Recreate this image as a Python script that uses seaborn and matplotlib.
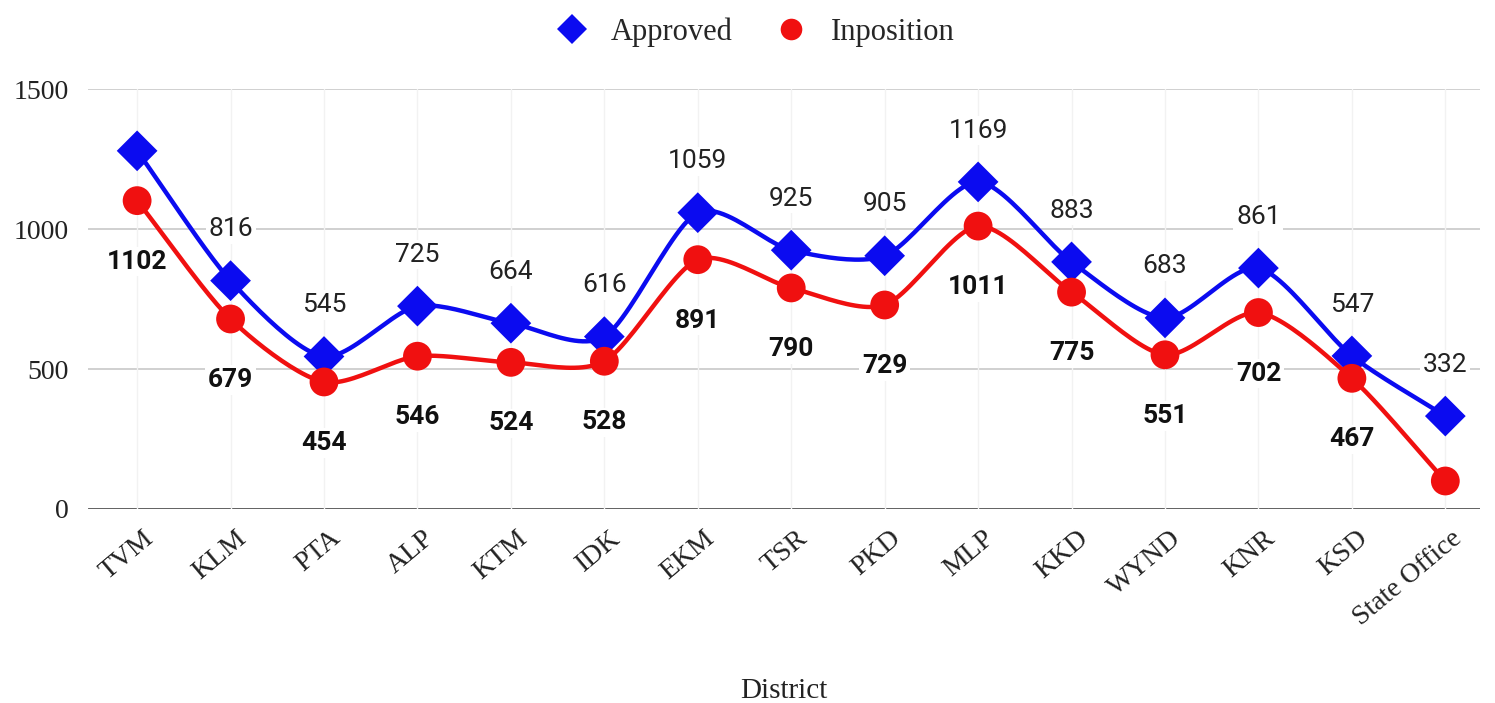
import numpy as np
import pandas as pd
import matplotlib
matplotlib.use("Agg")
import matplotlib.pyplot as plt
import matplotlib.transforms as mtransforms
import seaborn as sns

districts = ["TVM", "KLM", "PTA", "ALP", "KTM", "IDK", "EKM", "TSR", "PKD", "MLP",
             "KKD", "WYND", "KNR", "KSD", "State Office"]
approved = [1280, 816, 545, 725, 664, 616, 1059, 925, 905, 1169, 883, 683, 861, 547, 332]
inposition = [1102, 679, 454, 546, 524, 528, 891, 790, 729, 1011, 775, 551, 702, 467, 100]
show_approved = [False] + [True] * 14
show_inposition = [True] * 14 + [False]
yticks = [0, 500, 1000, 1500]

BLUE = "#0b0bf0"
RED = "#f01010"

sns.set_theme(style="white")
serif = ["Liberation Serif", "DejaVu Serif"]
sans = ["Roboto", "DejaVu Sans"]

fig = plt.figure(figsize=(14.95, 7.03), dpi=100)
ax = fig.add_axes([0.0589, 0.276, 0.931, 0.597])

x = np.arange(len(districts))


def smooth(xs, ys, n=24):
    xs = np.asarray(xs, float)
    ys = np.asarray(ys, float)
    P = np.column_stack([xs, ys])
    P = np.vstack([P[0] - (P[1] - P[0]), P, P[-1] + (P[-1] - P[-2])])
    out = []
    for i in range(1, len(P) - 2):
        p0, p1, p2, p3 = P[i - 1], P[i], P[i + 1], P[i + 2]
        t = np.linspace(0, 1, n, endpoint=False)[:, None]
        m1 = (p2 - p0) / 2 * 0.8
        m2 = (p3 - p1) / 2 * 0.8
        h00 = 2 * t**3 - 3 * t**2 + 1
        h10 = t**3 - 2 * t**2 + t
        h01 = -2 * t**3 + 3 * t**2
        h11 = t**3 - t**2
        out.append(h00 * p1 + h10 * m1 + h01 * p2 + h11 * m2)
    out.append(P[-2][None, :])
    c = np.vstack(out)
    return c[:, 0], c[:, 1]


# grid
for yt in yticks[1:]:
    ax.axhline(yt, color="#c8c8c8", lw=1.2, zorder=0)
ax.axhline(0, color="#333333", lw=1.8, zorder=0)
for xi in x:
    ax.axvline(xi, color="#f2f2f2", lw=1.0, zorder=0)

sx, sy = smooth(x, approved)
ax.plot(sx, sy, color=BLUE, lw=3.2, zorder=2, solid_capstyle="round")
sx, sy = smooth(x, inposition)
ax.plot(sx, sy, color=RED, lw=3.2, zorder=2, solid_capstyle="round")

df = pd.DataFrame({
    "x": np.concatenate([x, x]),
    "value": approved + inposition,
    "series": ["Approved"] * len(x) + ["Inposition"] * len(x),
})
sns.scatterplot(data=df, x="x", y="value", hue="series", style="series",
                palette={"Approved": BLUE, "Inposition": RED},
                markers={"Approved": "D", "Inposition": "o"},
                s=430, linewidth=0, ax=ax, zorder=3)

# data labels
for xi, v, sh in zip(x, approved, show_approved):
    if sh:
        ax.annotate(str(v), (xi, v), xytext=(0, 37), textcoords="offset points",
                    ha="center", va="center", fontsize=19, family=sans,
                    color="#222222", zorder=1,
                    bbox=dict(boxstyle="square,pad=0.1", fc="white", ec="none"))
for xi, v, sh in zip(x, inposition, show_inposition):
    if sh:
        ax.annotate(str(v), (xi, v), xytext=(0, -44), textcoords="offset points",
                    ha="center", va="center", fontsize=19, family=sans,
                    fontweight="bold", color="#111111", zorder=1,
                    bbox=dict(boxstyle="square,pad=0.1", fc="white", ec="none"))

ax.set_xlim(-0.525, 14.37)
ax.set_ylim(0, 1500)
ax.set_yticks(yticks)
ax.set_yticklabels([str(t) for t in yticks], family=serif, fontsize=20, color="#222222")
ax.set_xticks(x)
ax.tick_params(axis="x", length=0, pad=12)
ax.tick_params(axis="y", length=0, pad=14)
ax.set_xticklabels(districts, rotation=40, ha="right", rotation_mode="anchor",
                   family=serif, fontsize=20, color="#222222")
shift = mtransforms.ScaledTranslation(0.05, 0, fig.dpi_scale_trans)
for lbl in ax.get_xticklabels():
    lbl.set_transform(lbl.get_transform() + shift)
ax.set_xlabel("District", family=serif, fontsize=21, labelpad=34, color="#222222")
ax.set_ylabel("")
for sp in ax.spines.values():
    sp.set_visible(False)

leg = ax.legend(loc="lower center", bbox_to_anchor=(0.474, 1.035), ncol=2, frameon=False,
                prop={"family": serif, "size": 22}, markerscale=0.75,
                handletextpad=0.3, columnspacing=0.9)

fig.savefig("out.png", dpi=100, facecolor="white")
